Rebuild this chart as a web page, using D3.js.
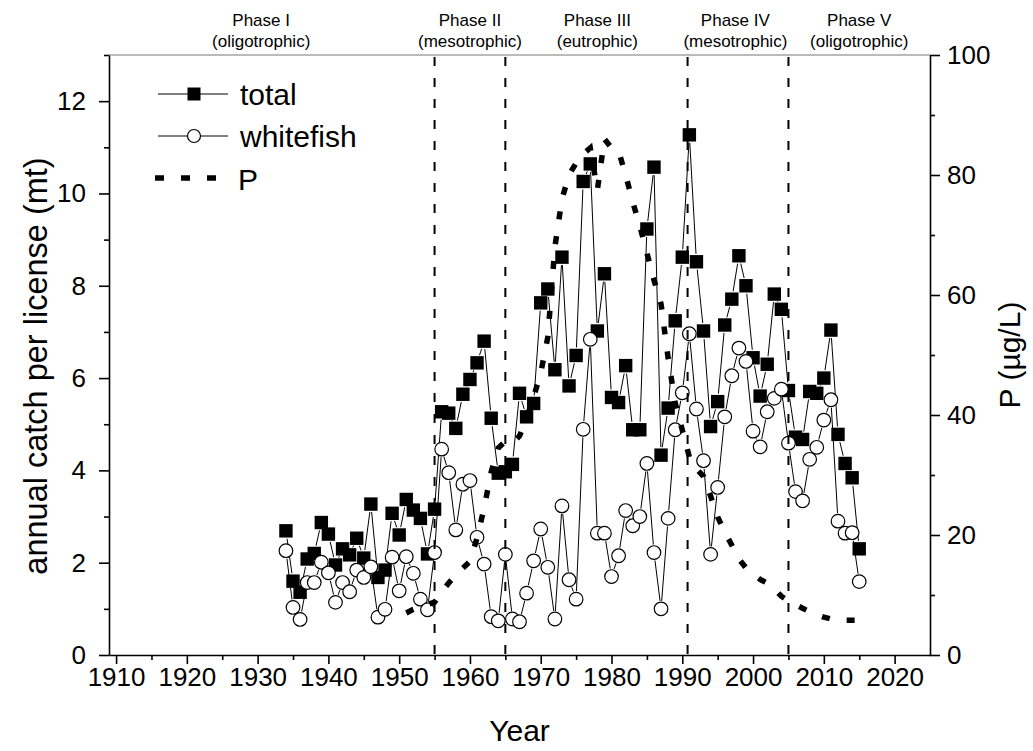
<!DOCTYPE html>
<html>
<head>
<meta charset="utf-8">
<title></title>
<style>
body{ margin:0; background:#fff; }
text{ font-family:"Liberation Sans", Arial, sans-serif; fill:#000; }
.axis path, .axis line{ stroke:#000; stroke-width:1.6px; }
.conn{ stroke:#000; stroke-width:1px; fill:none; }
</style>
<script src="https://cdn.jsdelivr.net/npm/d3@7/dist/d3.min.js"></script>
</head>
<body>
<div id="chart"></div>
<script>
// yearly series, first year 1934
var firstYear = 1934;
var total = [2.69,1.60,1.36,2.08,2.20,2.87,2.62,1.95,2.30,2.17,
	2.53,2.10,3.27,1.68,1.84,3.07,2.60,3.37,3.14,2.96,
	2.19,3.16,5.27,5.24,4.91,5.65,5.97,6.33,6.80,5.13,
	3.94,3.97,4.13,5.67,5.16,5.45,7.63,7.93,6.18,8.62,
	5.83,6.49,10.26,10.64,7.02,8.26,5.58,5.47,6.27,4.88,
	4.88,9.23,10.57,4.33,5.35,7.24,8.62,11.27,8.52,7.02,
	4.95,5.49,7.15,7.71,8.65,8.00,6.44,5.61,6.30,7.82,
	7.49,5.73,4.72,4.67,5.71,5.67,6.00,7.04,4.78,4.15,
	3.84,2.30];
var whitefish = [2.26,1.03,0.77,1.57,1.57,2.01,1.78,1.14,1.57,1.37,
	1.84,1.68,1.91,0.82,0.99,2.12,1.39,2.13,1.77,1.21,
	0.98,2.22,4.46,3.95,2.71,3.70,3.78,2.55,1.97,0.83,
	0.74,2.18,0.78,0.72,1.34,2.04,2.73,1.90,0.78,3.23,
	1.63,1.21,4.89,6.84,2.64,2.64,1.70,2.15,3.13,2.80,
	3.00,4.15,2.22,1.00,2.96,4.88,5.68,6.96,5.33,4.21,
	2.18,3.63,5.16,6.05,6.65,6.36,4.85,4.51,5.27,5.56,
	5.76,4.59,3.54,3.34,4.24,4.50,5.09,5.53,2.90,2.64,
	2.65,1.59];
// phosphorus, first year 1951
var pFirstYear = 1951;
var phosphorus = [7.0,7.6,8.0,8.4,8.8,10.5,12.0,13.3,14.5,15.6,
	19.5,24.5,30.5,34.5,35.6,35.3,36.5,39.5,43,47,
	53,68,76,80,82,83.5,84.5,77.5,86,84.5,
	84,80,75.5,71.5,67,62.5,58.5,49.5,42,37.5,
	33,31,29.8,26.5,23,20.5,18.3,16,14.5,13.5,
	12.6,12,11,9.8,9,8.4,7.8,7.2,6.7,6.3,
	6.0,5.9,5.8,5.8,5.8];

var phaseBreaks = [1955, 1965, 1990.75, 2005];
var phaseNames = ["Phase I", "Phase II", "Phase III", "Phase IV", "Phase V"];
var phaseStates = ["(oligotrophic)", "(mesotrophic)", "(eutrophic)", "(mesotrophic)", "(oligotrophic)"];
var phaseCenters = [1930.5, 1960, 1978, 1997.5, 2015];

var xTicks = [1910,1920,1930,1940,1950,1960,1970,1980,1990,2000,2010,2020];
var xMinor = [1915,1925,1935,1945,1955,1965,1975,1985,1995,2005,2015];
var leftTicks = [0,2,4,6,8,10,12];
var leftMinor = [1,3,5,7,9,11,13];
var rightTicks = [0,20,40,60,80,100];
var rightMinor = [10,30,50,70,90];

var width = 1033, height = 751;
var x = d3.scaleLinear().domain([1909, 2025]).range([109, 930]);
var yL = d3.scaleLinear().domain([0, 13]).range([655, 55]);
var yR = d3.scaleLinear().domain([0, 100]).range([655, 55]);

var svg = d3.select('#chart').append('svg')
	.attr('width', width)
	.attr('height', height);

function rows(vals, start){
	return vals.map(function(v, i){ return {year: start + i, v: v}; });
}
var totalData = rows(total, firstYear);
var whiteData = rows(whitefish, firstYear);
var pData = rows(phosphorus, pFirstYear);

// line segments with a small gap at each symbol
function connect(data, yScale, gap){
	var g = svg.append('g');
	for (var i = 1; i < data.length; i++){
		var x1 = x(data[i-1].year), y1 = yScale(data[i-1].v);
		var x2 = x(data[i].year), y2 = yScale(data[i].v);
		var dx = x2 - x1, dy = y2 - y1, len = Math.sqrt(dx*dx + dy*dy);
		if (len <= 2*gap) continue;
		var ux = dx/len, uy = dy/len;
		g.append('line').attr('class', 'conn')
			.attr('x1', x1 + ux*gap).attr('y1', y1 + uy*gap)
			.attr('x2', x2 - ux*gap).attr('y2', y2 - uy*gap);
	}
}

// top frame
svg.append('line')
	.attr('x1', 109).attr('x2', 930).attr('y1', 55).attr('y2', 55)
	.attr('stroke', '#777').attr('stroke-width', 1.2);

// axes
var fmt = d3.format('d');
svg.append('g').attr('class', 'axis').attr('transform', 'translate(0,655)')
	.call(d3.axisBottom(x).tickValues(xTicks).tickFormat(fmt).tickSize(9).tickSizeOuter(0).tickPadding(4))
	.call(function(g){ g.selectAll('text').style('font-size', '26px').attr('fill', '#000'); });
svg.append('g').attr('class', 'axis').attr('transform', 'translate(0,655)')
	.call(d3.axisBottom(x).tickValues(xMinor).tickFormat('').tickSize(5))
	.call(function(g){ g.select('.domain').remove(); });

svg.append('g').attr('class', 'axis').attr('transform', 'translate(109,0)')
	.call(d3.axisLeft(yL).tickValues(leftTicks).tickFormat(fmt).tickSize(10).tickSizeOuter(0).tickPadding(13))
	.call(function(g){ g.selectAll('text').style('font-size', '26px').attr('fill', '#000'); });
svg.append('g').attr('class', 'axis').attr('transform', 'translate(109,0)')
	.call(d3.axisLeft(yL).tickValues(leftMinor).tickFormat('').tickSize(5))
	.call(function(g){ g.select('.domain').remove(); });

svg.append('g').attr('class', 'axis').attr('transform', 'translate(930,0)')
	.call(d3.axisRight(yR).tickValues(rightTicks).tickFormat(fmt).tickSize(10).tickSizeOuter(0).tickPadding(7))
	.call(function(g){ g.selectAll('text').style('font-size', '26px').attr('fill', '#000'); });
svg.append('g').attr('class', 'axis').attr('transform', 'translate(930,0)')
	.call(d3.axisRight(yR).tickValues(rightMinor).tickFormat('').tickSize(5))
	.call(function(g){ g.select('.domain').remove(); });

// axis titles
svg.append('text').attr('x', 519.5).attr('y', 741)
	.attr('text-anchor', 'middle').style('font-size', '30px').text('Year');
svg.append('text').attr('transform', 'translate(47,366) rotate(-90)')
	.attr('text-anchor', 'middle').style('font-size', '32.5px').text('annual catch per license (mt)');
svg.append('text').attr('transform', 'translate(1020,355) rotate(-90)')
	.attr('text-anchor', 'middle').style('font-size', '30px').text('P (µg/L)');

// total
connect(totalData, yL, 8);
svg.append('g').selectAll('rect').data(totalData).enter().append('rect')
	.attr('x', function(d){ return x(d.year) - 6.7; })
	.attr('y', function(d){ return yL(d.v) - 6.7; })
	.attr('width', 13.4).attr('height', 13.4)
	.attr('fill', '#000');

// whitefish
connect(whiteData, yL, 8);
svg.append('g').selectAll('circle').data(whiteData).enter().append('circle')
	.attr('cx', function(d){ return x(d.year); })
	.attr('cy', function(d){ return yL(d.v); })
	.attr('r', 6.8)
	.attr('fill', '#fff').attr('stroke', '#000').attr('stroke-width', 1.2);

// phosphorus
var pLine = d3.line()
	.x(function(d){ return x(d.year); })
	.y(function(d){ return yR(d.v); });
svg.append('path').datum(pData)
	.attr('d', pLine)
	.attr('fill', 'none').attr('stroke', '#000')
	.attr('stroke-width', 5.5).attr('stroke-dasharray', '8,17');

// phase boundaries
svg.append('g').selectAll('line').data(phaseBreaks).enter().append('line')
	.attr('x1', function(d){ return x(d); }).attr('x2', function(d){ return x(d); })
	.attr('y1', 57).attr('y2', 655)
	.attr('stroke', '#000').attr('stroke-width', 2).attr('stroke-dasharray', '9,12');

// phase labels
var ph = svg.append('g').selectAll('g').data(phaseNames).enter().append('g');
ph.append('text').attr('x', function(d, i){ return x(phaseCenters[i]); }).attr('y', 26)
	.attr('text-anchor', 'middle').style('font-size', '17px').text(function(d){ return d; });
ph.append('text').attr('x', function(d, i){ return x(phaseCenters[i]); }).attr('y', 47)
	.attr('text-anchor', 'middle').style('font-size', '17px').text(function(d, i){ return phaseStates[i]; });

// legend
var lg = svg.append('g');
lg.append('line').attr('class', 'conn').attr('x1', 158).attr('x2', 228).attr('y1', 94).attr('y2', 94);
lg.append('rect').attr('x', 187.5).attr('y', 87.5).attr('width', 13).attr('height', 13).attr('fill', '#000');
lg.append('text').attr('x', 240).attr('y', 105).style('font-size', '30px').text('total');
lg.append('line').attr('class', 'conn').attr('x1', 158).attr('x2', 228).attr('y1', 136).attr('y2', 136);
lg.append('circle').attr('cx', 194).attr('cy', 136).attr('r', 6.5)
	.attr('fill', '#fff').attr('stroke', '#000').attr('stroke-width', 1.2);
lg.append('text').attr('x', 240).attr('y', 147).style('font-size', '30px').text('whitefish');
lg.append('line').attr('x1', 155).attr('x2', 222).attr('y1', 178).attr('y2', 178)
	.attr('stroke', '#000').attr('stroke-width', 5.5).attr('stroke-dasharray', '9,17');
lg.append('text').attr('x', 238).attr('y', 190).style('font-size', '30px').text('P');
</script>
</body>
</html>
